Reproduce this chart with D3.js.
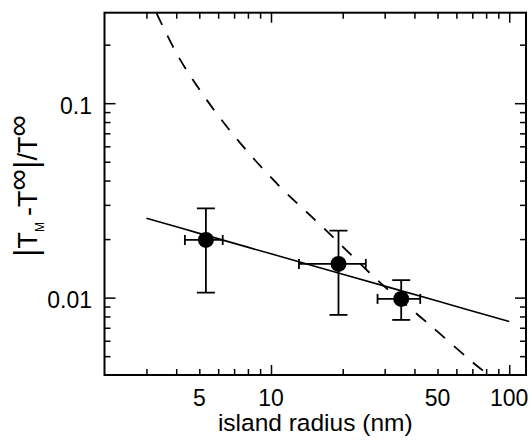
<!DOCTYPE html>
<html>
<head>
<meta charset="utf-8">
<script src="https://cdn.jsdelivr.net/npm/d3@7"></script>
<style>
  body { margin: 0; background: #fff; }
  svg { display: block; font-family: "Liberation Sans", Arial, Helvetica, sans-serif; }
</style>
</head>
<body>
<div id="chart"></div>
<script>
// measured points: island radius (nm) and |T_M - T_inf| / T_inf
const pointR = [5.33, 19.2, 35.2];
const pointY = [0.0198, 0.0149, 0.00985];
const xErrLo = [4.35, 13.1, 28.0];
const xErrHi = [6.27, 25.0, 42.3];
const yErrLo = [0.0106, 0.00815, 0.00768];
const yErrHi = [0.0288, 0.0221, 0.0123];

// solid curve
const fitR = [3, 5, 10, 20, 50, 100];
const fitY = [0.0256, 0.0214, 0.0168, 0.0132, 0.0096, 0.00753];

// dashed curve
const modelR = [3.31, 4.08, 5.37, 7.43, 10.9, 16.4, 28.8, 44.7, 73.8, 80];
const modelY = [0.290, 0.174, 0.104, 0.0623, 0.0372, 0.0232, 0.0119, 0.00753, 0.00442, 0.0041];

// ticks
const xMinorTicks = [3, 4, 5, 6, 7, 8, 9, 20, 30, 40, 50, 60, 70, 80, 90];
const xMajorTicks = [10, 100];
const xLabels = [5, 10, 50, 100];
const yMinorTicks = [0.005, 0.006, 0.007, 0.008, 0.009, 0.02, 0.03, 0.04, 0.05, 0.06, 0.07, 0.08, 0.09, 0.2];
const yMajorTicks = [0.01, 0.1];
const yLabels = [0.01, 0.1];

const width = 532, height = 440;
const mLeft = 104.5, mRight = 526, mTop = 12.7, mBottom = 375;

const x = d3.scaleLog().domain([2, 117.6]).range([mLeft, mRight]);
const y = d3.scaleLog().domain([0.004, 0.292]).range([mBottom, mTop]);

const svg = d3.select("#chart").append("svg")
    .attr("width", width)
    .attr("height", height);

svg.append("defs").append("clipPath").attr("id", "clip")
  .append("rect")
    .attr("x", mLeft).attr("y", mTop)
    .attr("width", mRight - mLeft).attr("height", mBottom - mTop);

// ticks on all four sides, pointing inward
function tickAxis(axis, size, vals, tx, ty) {
    svg.append("g")
        .attr("transform", `translate(${tx},${ty})`)
        .call(axis.tickValues(vals).tickSize(size).tickFormat(""))
        .call(g => g.select(".domain").remove())
        .call(g => g.selectAll("line").attr("stroke", "#000").attr("stroke-width", 1.5));
}
tickAxis(d3.axisBottom(x), -6, xMinorTicks, 0, mBottom);
tickAxis(d3.axisBottom(x), -10, xMajorTicks, 0, mBottom);
tickAxis(d3.axisTop(x), -6, xMinorTicks, 0, mTop);
tickAxis(d3.axisTop(x), -10, xMajorTicks, 0, mTop);
tickAxis(d3.axisLeft(y), -6, yMinorTicks, mLeft, 0);
tickAxis(d3.axisLeft(y), -11, yMajorTicks, mLeft, 0);
tickAxis(d3.axisRight(y), -6, yMinorTicks, mRight, 0);
tickAxis(d3.axisRight(y), -11, yMajorTicks, mRight, 0);

// frame
svg.append("rect")
    .attr("x", mLeft).attr("y", mTop)
    .attr("width", mRight - mLeft).attr("height", mBottom - mTop)
    .attr("fill", "none")
    .attr("stroke", "#000")
    .attr("stroke-width", 2);

// tick labels
svg.append("g")
    .selectAll("text")
    .data(xLabels)
    .join("text")
    .attr("x", d => x(d))
    .attr("y", 406)
    .attr("text-anchor", "middle")
    .attr("font-size", 23)
    .text(d => d);

svg.append("g")
    .selectAll("text")
    .data(yLabels)
    .join("text")
    .attr("x", 92)
    .attr("y", d => y(d) + 10.5)
    .attr("text-anchor", "end")
    .attr("font-size", 23)
    .text(d => d);

// axis titles
svg.append("text")
    .attr("x", (mLeft + mRight) / 2)
    .attr("y", 431)
    .attr("text-anchor", "middle")
    .attr("font-size", 24.5)
    .text("island radius (nm)");

const yt = svg.append("text")
    .attr("transform", "translate(36.5,186) rotate(-90)")
    .attr("text-anchor", "middle")
    .attr("font-size", 27);
yt.append("tspan").attr("font-size", 33).text("|");
yt.append("tspan").text("T");
yt.append("tspan").attr("font-size", 12).attr("dy", 7).text("M");
yt.append("tspan").attr("dy", -7).attr("dx", 6).text("-T");
yt.append("tspan").attr("font-size", 30).attr("dy", -9).text("\u221E");
yt.append("tspan").attr("font-size", 33).attr("dy", 9).text("|");
yt.append("tspan").text("/T");
yt.append("tspan").attr("font-size", 30).attr("dy", -9).text("\u221E");

const plot = svg.append("g").attr("clip-path", "url(#clip)");

// dashed curve
const curveLine = d3.line()
    .x(d => x(d[0]))
    .y(d => y(d[1]))
    .curve(d3.curveCatmullRom);
plot.append("path")
    .datum(d3.zip(modelR, modelY))
    .attr("fill", "none")
    .attr("stroke", "#000")
    .attr("stroke-width", 1.8)
    .attr("stroke-dasharray", "13,12")
    .attr("d", curveLine);

// solid curve
plot.append("path")
    .datum(d3.zip(fitR, fitY))
    .attr("fill", "none")
    .attr("stroke", "#000")
    .attr("stroke-width", 1.6)
    .attr("d", curveLine);

// error bars
const pts = pointR.map((r, i) => ({
    r, v: pointY[i], xl: xErrLo[i], xh: xErrHi[i], yl: yErrLo[i], yh: yErrHi[i]
}));

const eb = plot.append("g")
    .attr("stroke", "#000")
    .attr("stroke-width", 1.8)
    .selectAll("g")
    .data(pts)
    .join("g");

eb.append("line")
    .attr("x1", d => x(d.r)).attr("x2", d => x(d.r))
    .attr("y1", d => y(d.yl)).attr("y2", d => y(d.yh));
eb.append("line")
    .attr("x1", d => x(d.r) - 9).attr("x2", d => x(d.r) + 9)
    .attr("y1", d => y(d.yl)).attr("y2", d => y(d.yl));
eb.append("line")
    .attr("x1", d => x(d.r) - 9).attr("x2", d => x(d.r) + 9)
    .attr("y1", d => y(d.yh)).attr("y2", d => y(d.yh));
eb.append("line")
    .attr("x1", d => x(d.xl)).attr("x2", d => x(d.xh))
    .attr("y1", d => y(d.v)).attr("y2", d => y(d.v));
eb.append("line")
    .attr("x1", d => x(d.xl)).attr("x2", d => x(d.xl))
    .attr("y1", d => y(d.v) - 5).attr("y2", d => y(d.v) + 5);
eb.append("line")
    .attr("x1", d => x(d.xh)).attr("x2", d => x(d.xh))
    .attr("y1", d => y(d.v) - 5).attr("y2", d => y(d.v) + 5);

// points
plot.append("g")
    .selectAll("circle")
    .data(pts)
    .join("circle")
    .attr("cx", d => x(d.r))
    .attr("cy", d => y(d.v))
    .attr("r", 8)
    .attr("fill", "#000");
</script>
</body>
</html>
